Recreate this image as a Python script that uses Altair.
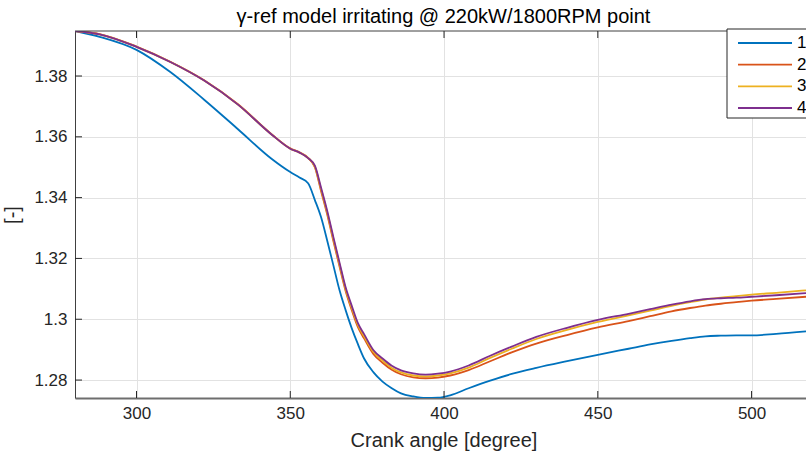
import altair as alt
import pandas as pd

# ---------------- data ----------------
angle = [280, 288, 300, 311, 322, 333, 344, 350, 353, 355.8,
         358, 360, 362, 364, 366, 368, 370, 372, 374, 377,
         380, 383, 386, 390, 394, 398, 402, 408, 415, 422,
         430, 440, 450, 460, 467, 474, 480, 485, 490, 495,
         500, 508, 517.7]

s1 = [1.3948, 1.3929, 1.3886, 1.3813, 1.3722, 1.3625, 1.3527, 1.3484, 1.3466, 1.3447,
      1.3392, 1.3336, 1.3259, 1.3178, 1.3096, 1.3030, 1.2970, 1.2918, 1.2871, 1.2826,
      1.2795, 1.2773, 1.2756, 1.2746, 1.2741, 1.2742, 1.2750, 1.2773, 1.2798, 1.2820,
      1.2840, 1.2862, 1.2883, 1.2903, 1.2917, 1.2929, 1.2938, 1.2944, 1.2946, 1.2947,
      1.2947, 1.2952, 1.2960]

s2 = [1.3948, 1.3938, 1.3897, 1.3847, 1.3786, 1.3707, 1.3608, 1.3562, 1.3549, 1.3531,
      1.3500, 1.3422, 1.3345, 1.3258, 1.3174, 1.3093, 1.3030, 1.2974, 1.2937, 1.2886,
      1.2857, 1.2834, 1.2819, 1.2809, 1.2806, 1.2808, 1.2815, 1.2833, 1.2862, 1.2891,
      1.2920, 1.2948, 1.2973, 1.2994, 1.3010, 1.3026, 1.3037, 1.3045, 1.3051, 1.3056,
      1.3061, 1.3067, 1.3074]

s3 = [1.3948, 1.3937, 1.3896, 1.3846, 1.3785, 1.3706, 1.3607, 1.3561, 1.3548, 1.3530,
      1.3502, 1.3428, 1.3351, 1.3265, 1.3181, 1.3099, 1.3037, 1.2981, 1.2944, 1.2893,
      1.2864, 1.2840, 1.2825, 1.2815, 1.2812, 1.2815, 1.2822, 1.2841, 1.2873, 1.2903,
      1.2935, 1.2965, 1.2991, 1.3013, 1.3028, 1.3044, 1.3056, 1.3065, 1.3071, 1.3076,
      1.3081, 1.3087, 1.3095]

s4 = [1.3948, 1.3937, 1.3896, 1.3846, 1.3785, 1.3706, 1.3607, 1.3561, 1.3548, 1.3530,
      1.3505, 1.3433, 1.3357, 1.3271, 1.3187, 1.3105, 1.3044, 1.2987, 1.2951, 1.2899,
      1.2871, 1.2847, 1.2832, 1.2822, 1.2818, 1.2821, 1.2828, 1.2848, 1.2880, 1.2910,
      1.2942, 1.2972, 1.2998, 1.3018, 1.3033, 1.3048, 1.3059, 1.3066, 1.3069, 1.3071,
      1.3074, 1.3079, 1.3086]

series_names = ["1", "2", "3", "4"]
colors = ["#0072BD", "#D95319", "#EDB120", "#7E2F8E"]
x_ticks = [300, 350, 400, 450, 500]
y_ticks = [1.28, 1.30, 1.32, 1.34, 1.36, 1.38]
title_text = "γ-ref model irritating @ 220kW/1800RPM point"
x_title = "Crank angle [degree]"
y_title = "[-]"

# ---------------- tables ----------------
rows = []
for name, ys in zip(series_names, [s1, s2, s3, s4]):
    for a, v in zip(angle, ys):
        rows.append({"angle": a, "gamma": v, "series": name})
df = pd.DataFrame(rows)
xt_df = pd.DataFrame({"angle": x_ticks})
yt_df = pd.DataFrame({"yt": y_ticks})
leg_df = pd.DataFrame({"series": series_names})
one_df = pd.DataFrame({"k": [0]})

W, H = 731, 367
FONT = "Liberation Sans"
TXT = "#262626"

xscale = alt.Scale(domain=[280, 517.7], nice=False, zero=False)
yscale = alt.Scale(domain=[1.2741, 1.3948], nice=False, zero=False)
cscale = alt.Scale(domain=series_names, range=colors)

x_axis = alt.Axis(values=x_ticks, title=x_title, grid=True,
                  labelPadding=7, domainColor="#6e6e6e", domainWidth=2,
                  titleX=368.5, titleY=48.7, titleBaseline="alphabetic",
                  titleAlign="center")

lines = alt.Chart(df).mark_line(strokeWidth=1.8, clip=True, interpolate="monotone").encode(
    x=alt.X("angle:Q", scale=xscale, axis=x_axis),
    y=alt.Y("gamma:Q", scale=yscale,
            axis=alt.Axis(values=y_ticks, format="~g", title=y_title, grid=True,
                          labelPadding=8, domainColor="#404040", domainWidth=1,
                          titleX=-63, titleY=183.5, titleAngle=270,
                          titleBaseline="middle", titleAlign="center")),
    color=alt.Color("series:N", scale=cscale, legend=None),
)

top_border = alt.Chart(one_df).mark_rule(color="#404040", strokeWidth=1).encode(
    x=alt.value(0), x2=alt.value(W), y=alt.value(0))

xt_bottom = alt.Chart(xt_df).mark_rule(color=TXT, strokeWidth=1).encode(
    x=alt.X("angle:Q", scale=xscale, axis=x_axis), y=alt.value(H - 7), y2=alt.value(H))
xt_top = alt.Chart(xt_df).mark_rule(color=TXT, strokeWidth=1).encode(
    x=alt.X("angle:Q", scale=xscale, axis=x_axis), y=alt.value(0), y2=alt.value(7))
yt_left = alt.Chart(yt_df).mark_rule(color=TXT, strokeWidth=1).encode(
    y=alt.Y("yt:Q", scale=yscale, axis=None), x=alt.value(0), x2=alt.value(7))

legy = alt.Y("series:N", axis=None,
             scale=alt.Scale(type="point", domain=series_names, range=[12, 77], padding=0))

legend_box = alt.Chart(one_df).mark_rect(fill="white", stroke=TXT, strokeWidth=1).encode(
    x=alt.value(652), x2=alt.value(760), y=alt.value(-2), y2=alt.value(87))
leg_lines = alt.Chart(leg_df).mark_rule(strokeWidth=1.8).encode(
    x=alt.value(663), x2=alt.value(717), y=legy,
    color=alt.Color("series:N", scale=cscale, legend=None))
leg_text = alt.Chart(leg_df).mark_text(align="left", baseline="middle", fontSize=17,
                                       font=FONT, color="#000000").encode(
    x=alt.value(722), y=legy, text="series:N")

chart = alt.layer(
    lines, top_border, xt_bottom, xt_top, yt_left, legend_box, leg_lines, leg_text
).resolve_scale(
    y="independent"
).properties(
    width=W, height=H,
    title=alt.TitleParams(text=title_text, fontSize=20, font=FONT, fontWeight="normal",
                          color="#000000", anchor="middle", offset=2, dx=3),
    padding={"left": 75, "top": 31, "right": 0, "bottom": 62},
    autosize=alt.AutoSizeParams(type="none"),
).configure(
    background="white"
).configure_view(
    stroke=None
).configure_axis(
    labelFont=FONT, titleFont=FONT, labelFontSize=17, titleFontSize=20,
    labelColor=TXT, titleColor=TXT, titleFontWeight="normal",
    gridColor="#e2e2e2", gridWidth=1, ticks=False, tickSize=0,
)

chart.save("out.html", embed_options={"renderer": "svg", "actions": False})
